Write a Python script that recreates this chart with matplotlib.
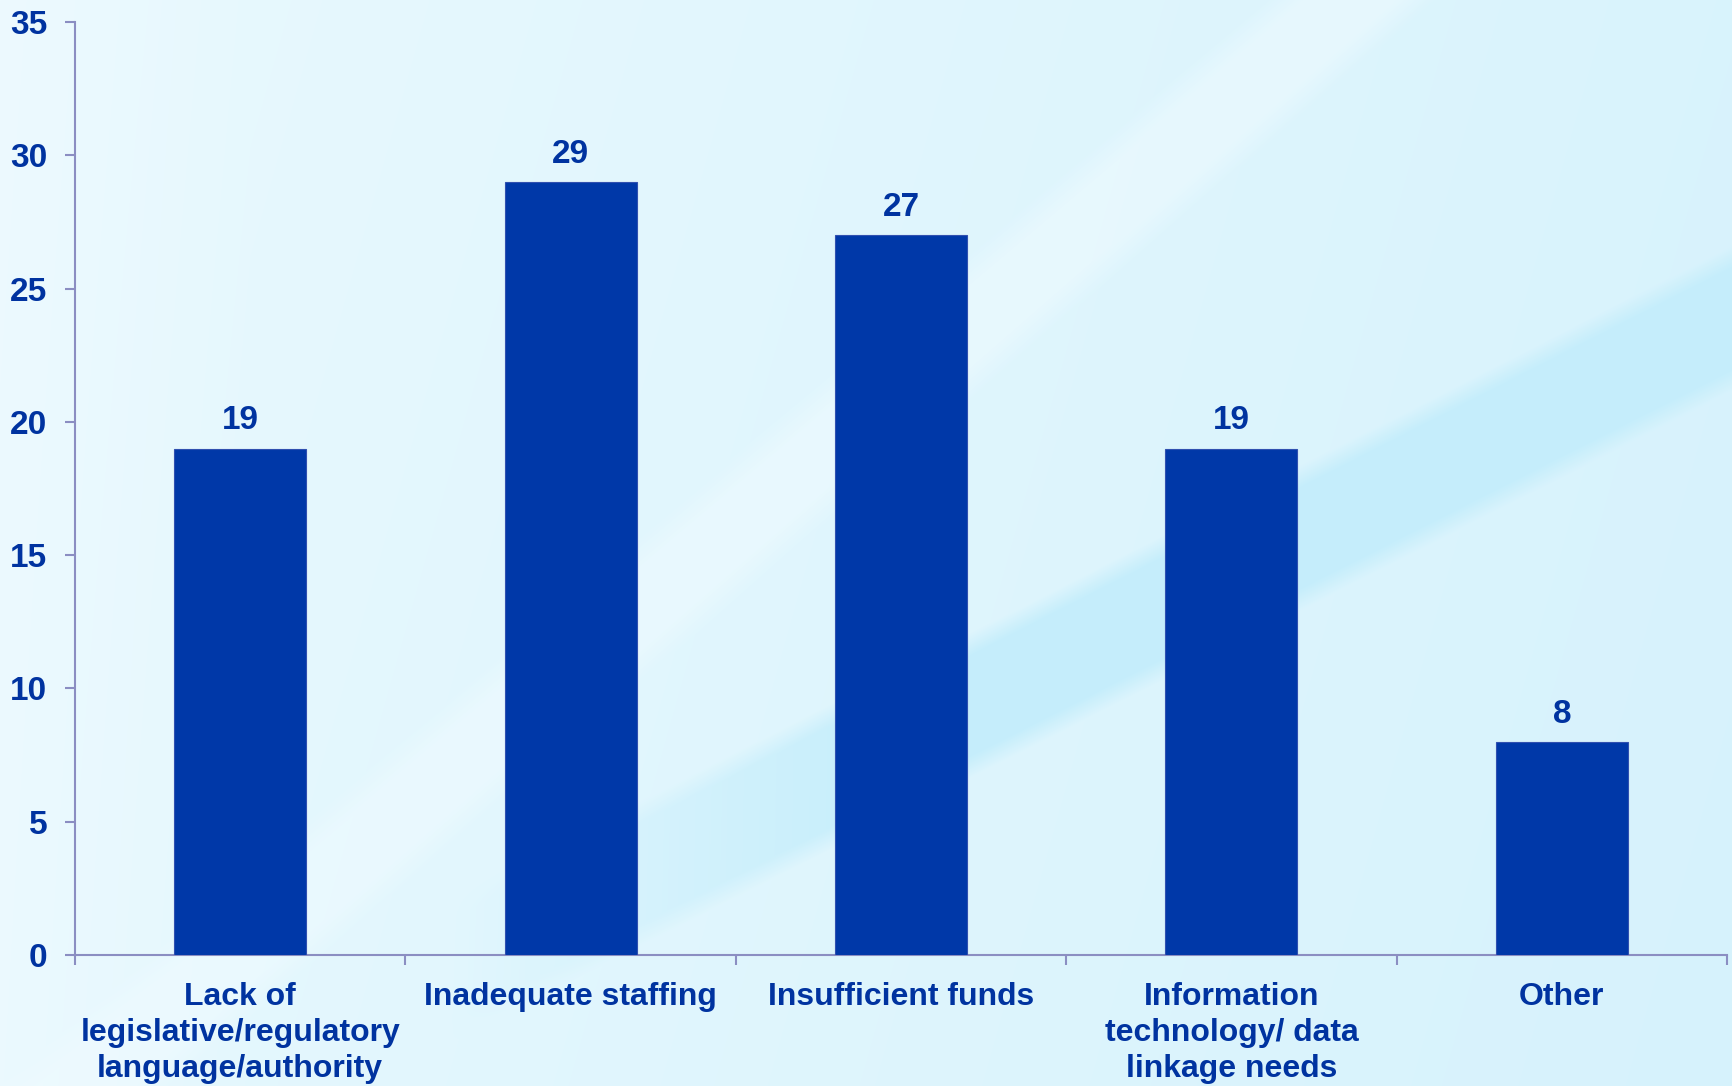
import numpy as np
import matplotlib
matplotlib.use('Agg')
import matplotlib.pyplot as plt

categories = ["Lack of\nlegislative/regulatory\nlanguage/authority",
              "Inadequate staffing",
              "Insufficient funds",
              "Information\ntechnology/ data\nlinkage needs",
              "Other"]
values = [19, 29, 27, 19, 8]
yticks = [0, 5, 10, 15, 20, 25, 30, 35]

plt.rcParams['font.family'] = ['Liberation Sans', 'DejaVu Sans']

W, H = 1732, 1086
fig = plt.figure(figsize=(W / 100, H / 100), dpi=100)

# ---- decorative background ----
bg = fig.add_axes([0, 0, 1, 1], zorder=-10)
yy, xx = np.mgrid[0:H, 0:W].astype(float)
base_l = np.array([233, 249, 254.0])
base_r = np.array([214, 242, 252.0])
t = np.clip(xx / W * 0.85 + (yy / H) * 0.15, 0, 1)[..., None]
img = base_l * (1 - t) + base_r * t


def dist(x0, y0, x1, y1):
    dx, dy = x1 - x0, y1 - y0
    n = np.hypot(dx, dy)
    return ((xx - x0) * dy - (yy - y0) * dx) / n


def soft(d, hw, edge):
    return np.clip((hw - np.abs(d)) / edge, 0, 1)

# light streak
m1 = soft(dist(1000, 300, 1350, 0), 55, 25)[..., None] * 0.5
img = img * (1 - m1) + np.array([240, 251, 255.0]) * m1
# cyan streak
fade = np.clip((xx - 450) / 450, 0, 1)
m2 = (soft(dist(1000, 690, 1732, 318), 65, 20) * fade)[..., None] * 0.9
img = img * (1 - m2) + np.array([195, 237, 251.0]) * m2
# lighter left edge
m3 = np.clip(1 - xx / 250, 0, 1)[..., None] * 0.5
img = img * (1 - m3) + np.array([240, 251, 255.0]) * m3

bg.imshow(img.astype(np.uint8), aspect='auto', extent=[0, 1, 0, 1])
bg.set_axis_off()

# ---- chart ----
text_color = '#0033A0'
bar_color = '#0038A8'
axis_color = '#8B8EC2'

ax = fig.add_axes([75 / W, 1 - 955 / H, (1727 - 75) / W, (955 - 22) / H])
ax.patch.set_alpha(0)
x = np.arange(len(values))
ax.bar(x, values, width=0.4, color=bar_color, edgecolor='#3050B0', linewidth=0.8, zorder=3)

ax.set_xlim(-0.5, len(values) - 0.5)
ax.set_ylim(0, 35)
for s in ['top', 'right']:
    ax.spines[s].set_visible(False)
for s in ['left', 'bottom']:
    ax.spines[s].set_color(axis_color)
    ax.spines[s].set_linewidth(1.5)

ax.set_yticks(yticks)
ax.set_yticklabels([str(v) for v in yticks], fontsize=24, fontweight='bold', color=text_color)
ax.tick_params(axis='y', direction='out', length=7, width=1.5, color=axis_color, pad=13)

ax.set_xticks(np.arange(-0.5, len(values), 1.0))
ax.set_xticklabels([])
ax.tick_params(axis='x', which='major', direction='out', length=7.5, width=1.5, color=axis_color)
ax.set_xticks(x, categories, minor=True)
ax.tick_params(axis='x', which='minor', length=0, pad=19.6)
for lbl in ax.get_xticklabels(minor=True):
    lbl.set_fontsize(23)
    lbl.set_fontweight('bold')
    lbl.set_color(text_color)
    lbl.set_multialignment('center')
    lbl.set_linespacing(1.25)

for xi, v in zip(x, values):
    ax.annotate(str(v), (xi, v), xytext=(0, 13.7), textcoords='offset points',
                ha='center', va='baseline', fontsize=24, fontweight='bold',
                color=text_color, zorder=4)

fig.savefig('out.png', dpi=100)
